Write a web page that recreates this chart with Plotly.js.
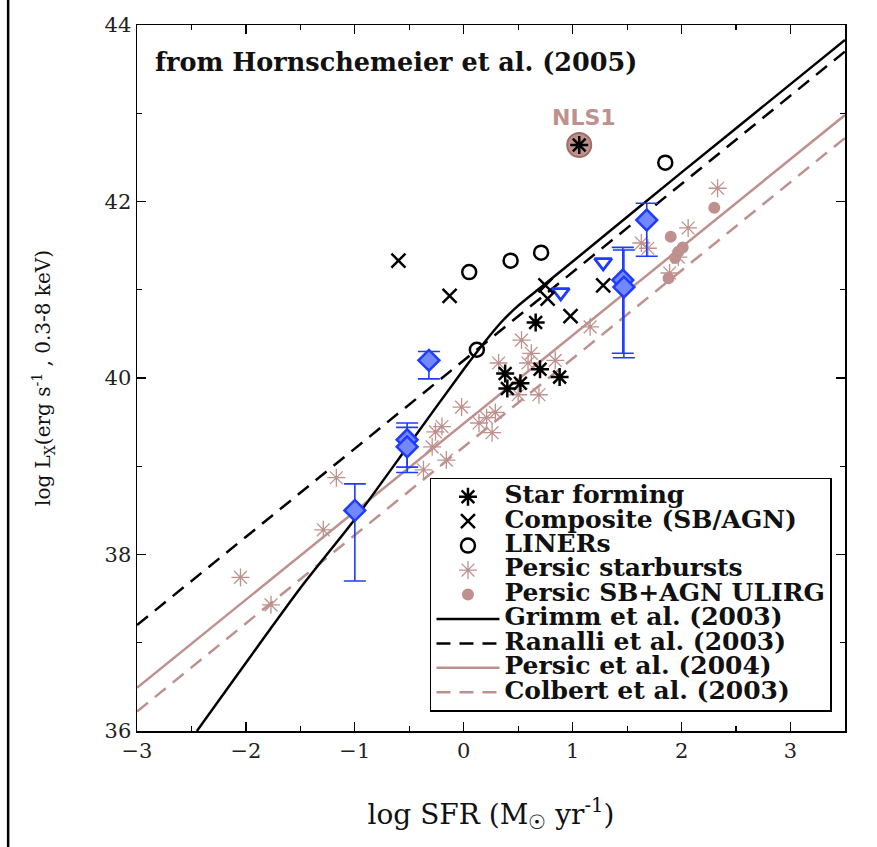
<!DOCTYPE html>
<html><head><meta charset="utf-8">
<script src="https://cdn.plot.ly/plotly-3.0.1.min.js"></script>
<style>html,body{margin:0;padding:0;background:#fff}</style>
</head><body><div id="chart" style="width:877px;height:847px"></div>
<script>
// ---- data ----
const starX = [0.66, 0.38, 0.40, 0.52, 0.70, 0.88];
const starY = [40.63, 40.05, 39.88, 39.94, 40.10, 40.01];
const nls1X = [1.06];
const nls1Y = [42.64];
const compX = [-0.60, -0.13, 0.75, 0.77, 0.98, 1.28];
const compY = [41.33, 40.93, 41.05, 40.90, 40.70, 41.05];
const linerX = [0.05, 0.43, 0.71, 0.12, 1.85];
const linerY = [41.20, 41.33, 41.42, 40.32, 42.44];
const persicSBX = [-2.05, -1.77, -1.29, -1.17, -0.37, -0.29, -0.26, -0.16, -0.20, -0.02, 0.14, 0.21, 0.29, 0.26, 0.32, 0.50, 0.53, 0.62, 0.59, 0.69, 0.84, 1.16, 1.63, 1.69, 1.89, 1.97, 2.06, 2.33];
const persicSBY = [37.74, 37.43, 38.28, 38.87, 38.96, 39.22, 39.39, 39.07, 39.45, 39.67, 39.49, 39.55, 39.61, 39.38, 40.17, 39.81, 40.43, 40.28, 40.17, 39.81, 40.20, 40.58, 41.53, 41.47, 41.19, 41.37, 41.70, 42.15];
const ulirgX = [1.90, 2.01, 1.94, 1.88, 1.97, 2.30];
const ulirgY = [41.60, 41.48, 41.36, 41.13, 41.43, 41.93];
const diamX = [-1.00, -0.52, -0.52, -0.32, 1.46, 1.47, 1.68];
const diamY = [38.50, 39.30, 39.22, 40.20, 41.11, 41.03, 41.79];
const diamErrPlus = [0.30, 0.19, 0.22, 0.10, 0.37, 0.42, 0.19];
const diamErrMinus = [0.80, 0.31, 0.29, 0.21, 0.83, 0.80, 0.41];
const triX = [0.89, 1.28];
const triY = [40.97, 41.31];
const grimmX = [-2.45, -1.5, -1.0, -0.5, 0.0, 0.2, 0.35, 0.5, 0.7, 1.0, 2.0, 3.0, 3.5];
const grimmY = [36.0, 37.62, 38.4, 39.25, 40.1, 40.42, 40.64, 40.82, 41.02, 41.32, 42.33, 43.33, 43.83];
const ranalliX = [-3.0, 3.5];
const ranalliY = [37.2, 43.7];
const persicLX = [-3.0, 3.5];
const persicLY = [36.49, 42.98];
const colbertX = [-3.0, 3.5];
const colbertY = [36.22, 42.72];
const legendNames = ['Star forming', 'Composite (SB/AGN)', 'LINERs', 'Persic starbursts', 'Persic SB+AGN ULIRG',
  'Grimm et al. (2003)', 'Ranalli et al. (2003)', 'Persic et al. (2004)', 'Colbert et al. (2003)'];

const ROSY = 'rgb(190,145,142)';
const BLUE = 'rgb(30,60,255)';
const SERIF = 'DejaVu Serif, serif';
const L = n => '<span style="font-size:25px;font-weight:bold">' + n + '</span>';

const traces = [
  {x: persicLX, y: persicLY, mode: 'lines', name: L(legendNames[7]), line: {color: ROSY, width: 2.5}, legendrank: 8},
  {x: colbertX, y: colbertY, mode: 'lines', name: L(legendNames[8]), line: {color: ROSY, width: 2.5, dash: '14px,9px'}, legendrank: 9},
  {x: ranalliX, y: ranalliY, mode: 'lines', name: L(legendNames[6]), line: {color: 'black', width: 2.5, dash: '14px,9px'}, legendrank: 7},
  {x: grimmX, y: grimmY, mode: 'lines', name: L(legendNames[5]), line: {color: 'black', width: 2.5, shape: 'spline', smoothing: 0.6}, legendrank: 6},
  {x: persicSBX, y: persicSBY, mode: 'markers', name: L(legendNames[3]), legendrank: 4,
   marker: {symbol: 'asterisk-open', size: 15, line: {color: ROSY, width: 1.3}, color: ROSY}},
  {x: ulirgX, y: ulirgY, mode: 'markers', name: L(legendNames[4]), legendrank: 5,
   marker: {symbol: 'circle', size: 10, color: ROSY, line: {color: ROSY, width: 2}}},
  {x: nls1X, y: nls1Y, mode: 'markers', showlegend: false,
   marker: {symbol: 'circle', size: 24, color: ROSY, line: {color: 'rgb(160,110,105)', width: 2}}},
  {x: diamX, y: diamY, mode: 'markers', showlegend: false,
   error_y: {type: 'data', symmetric: false, array: diamErrPlus, arrayminus: diamErrMinus, color: BLUE, thickness: 1.6, width: 11},
   marker: {symbol: 'diamond', size: 16, color: 'rgb(115,135,255)', line: {color: BLUE, width: 2.5}}},
  {x: triX, y: triY, mode: 'markers', showlegend: false,
   marker: {symbol: 'triangle-down-open', size: 15, color: BLUE, line: {color: BLUE, width: 2.8}}},
  {x: compX, y: compY, mode: 'markers', name: L(legendNames[1]), legendrank: 2,
   marker: {symbol: 'x-thin-open', size: 14, color: 'black', line: {color: 'black', width: 2.5}}},
  {x: linerX, y: linerY, mode: 'markers', name: L(legendNames[2]), legendrank: 3,
   marker: {symbol: 'circle-open', size: 14, color: 'black', line: {color: 'black', width: 2.5}}},
  {x: starX.concat(nls1X), y: starY.concat(nls1Y), mode: 'markers', name: L(legendNames[0]), legendrank: 1,
   marker: {symbol: 'asterisk-open', size: 15, color: 'black', line: {color: 'black', width: 2.5}}}
];

const axisCommon = {
  ticks: 'inside', ticklen: 9, tickwidth: 1.2, tickcolor: 'black',
  mirror: 'allticks', showline: true, linecolor: 'black', linewidth: 1.5,
  showgrid: false, zeroline: false,
  tickfont: {family: SERIF, size: 21, color: '#222'}
};

const layout = {
  width: 877, height: 847,
  margin: {l: 137, r: 32, t: 25, b: 116},
  paper_bgcolor: 'white', plot_bgcolor: 'white',
  showlegend: true,
  xaxis: Object.assign({}, axisCommon, {
    range: [-3, 3.5], tick0: 0, dtick: 1,
    minor: {dtick: 0.5, ticks: 'inside', ticklen: 5, tickcolor: 'black', tickwidth: 1.2},
    title: {text: 'log SFR (M<sub>☉</sub> yr<sup>-1</sup>)', font: {family: SERIF, size: 28, color: '#111'}, standoff: 42}
  }),
  yaxis: Object.assign({}, axisCommon, {
    range: [36, 44], tick0: 36, dtick: 2,
    minor: {dtick: 1, ticks: 'inside', ticklen: 5, tickcolor: 'black', tickwidth: 1.2},
    title: {text: 'log L<sub>X</sub>(erg s<sup>-1</sup> , 0.3-8 keV)', font: {family: SERIF, size: 20, color: '#111'}, standoff: 48}
  }),
  legend: {
    x: 0.4138, y: 0.3584, xanchor: 'left', yanchor: 'top',
    bgcolor: 'white', bordercolor: 'black', borderwidth: 1.5,
    font: {family: SERIF, size: 16.5, color: '#111'},
    itemwidth: 63, traceorder: 'normal'
  },
  annotations: [
    {xref: 'paper', yref: 'paper', x: 0.0226, y: 0.948, xanchor: 'left', yanchor: 'middle', showarrow: false,
     text: '<b>from Hornschemeier et al. (2005)</b>', font: {family: SERIF, size: 25.5, color: '#111'}},
    {xref: 'x', yref: 'y', x: 1.1, y: 42.95, xanchor: 'center', yanchor: 'middle', showarrow: false,
     text: '<b>NLS1</b>', font: {family: 'DejaVu Sans, sans-serif', size: 22, color: ROSY}}
  ],
  shapes: [
    {type: 'line', xref: 'paper', yref: 'paper', x0: -0.182, x1: -0.182, y0: -0.17, y1: 1.04, line: {color: 'black', width: 2.5}}
  ]
};

Plotly.newPlot('chart', traces, layout, {staticPlot: true, displayModeBar: false});
</script></body></html>
